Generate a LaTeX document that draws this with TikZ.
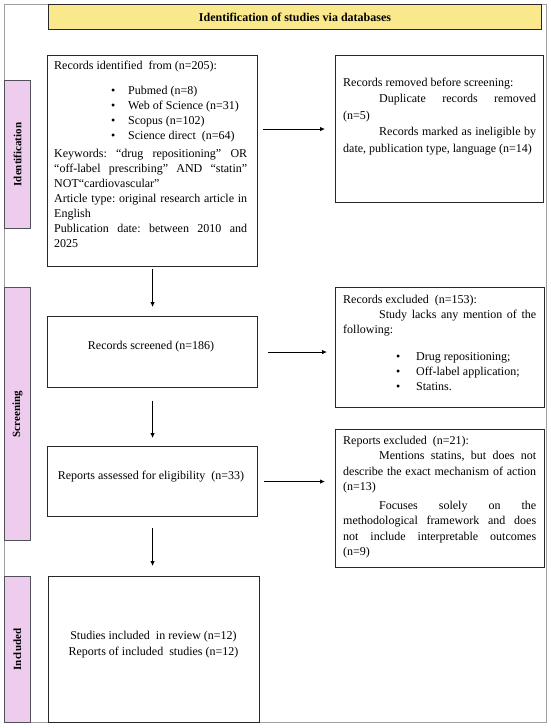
\documentclass[tikz,border=0pt]{standalone}
\usepackage{fontspec}
\setmainfont{Liberation Serif}
\usetikzlibrary{arrows.meta,calc}
\definecolor{sidepink}{RGB}{238,204,238}
\definecolor{hdryellow}{RGB}{250,232,140}
\definecolor{boxline}{RGB}{40,40,40}
\definecolor{frameline}{RGB}{160,160,160}
\definecolor{sideline}{RGB}{80,80,90}
\frenchspacing
\newcommand\nsp{\spaceskip=0pt\xspaceskip=0pt\relax}
\newcommand\justline[1]{\makebox[193pt][s]{\nsp #1}}
\newcommand\bulitem[3]{\hspace*{#1}\makebox[#2][l]{\textbullet}#3}
\begin{document}
\begin{tikzpicture}[x=1pt,y=-1pt,
  box/.style={draw=boxline, line width=1.1pt, rectangle, inner sep=0pt, anchor=north west},
  side/.style={draw=sideline, fill=sidepink, line width=1pt, rectangle, inner sep=0pt, anchor=north west, minimum width=26pt},
  sidelabel/.style={rotate=90, font=\fontsize{11}{13}\selectfont\bfseries, inner sep=0pt},
  txt/.style={inner sep=0pt, anchor=north west, text width=193pt, align=left, font=\fontsize{12}{15}\selectfont},
  ctxt/.style={inner sep=0pt, align=center, font=\fontsize{12}{16}\selectfont},
  arr/.style={draw=black, line width=0.9pt, -{Latex[length=5pt,width=4.5pt]}}
]
\useasboundingbox (0,0) rectangle (550,728);
\fill[white] (0,0) rectangle (550,728);
\draw[frameline, line width=0.8pt] (4,4) rectangle (546,722);

% header
\node[box, fill=hdryellow, draw=boxline, line width=1pt, minimum width=493pt, minimum height=25pt,
      font=\fontsize{12}{14}\selectfont\bfseries] (hdr) at (48,4) {\nsp Identification of studies via databases};

% sidebars
\node[side, minimum height=148pt] (sid) at (4,80) {};
\node[sidelabel] (sidl) at (sid.center) {Identification};
\node[side, minimum height=253pt] (sscr) at (4,287) {};
\node[sidelabel] (sscrl) at (sscr.center) {Screening};
\node[side, minimum height=146pt] (sinc) at (4,576) {};
\node[sidelabel] (sincl) at (sinc.center) {Included};

% boxes
\node[box, minimum width=210pt, minimum height=211pt] (box1) at (47,55) {};
\node[box, minimum width=208pt, minimum height=147pt] (rem) at (335,55) {};
\node[box, minimum width=210pt, minimum height=71pt] (scr) at (47,316) {};
\node[box, minimum width=209pt, minimum height=120pt] (excl) at (335,287) {};
\node[box, minimum width=210pt, minimum height=70pt] (rep) at (47,446) {};
\node[box, minimum width=209pt, minimum height=138pt] (excl2) at (335,429) {};
\node[box, minimum width=211pt, minimum height=146pt] (inc) at (48,576) {};

% texts
\node[txt] (box1t) at (54,60.5) {\nsp Records identified~ from (n=205):\\[10pt]
\bulitem{57pt}{17pt}{Pubmed (n=8)}\\
\bulitem{57pt}{17pt}{Web of Science (n=31)}\\
\bulitem{57pt}{17pt}{Scopus (n=102)}\\
\bulitem{57pt}{17pt}{Science direct~ (n=64)}\\[3pt]
\justline{Keywords: “drug repositioning” OR}\\
\justline{“off-label prescribing” AND “statin”}\\
NOT“cardiovascular”\\
\justline{Article type: original research article in}\\
English\\
\justline{Publication date: between 2010 and}\\
2025};

\node[txt, font=\fontsize{12}{16.5}\selectfont] (remt) at (343,77.5) {\nsp Records removed before screening:\\
\justline{\hspace*{36pt}Duplicate records removed}\\
(n=5)\\
\justline{\hspace*{36pt}Records marked as ineligible by}\\
date, publication type, language (n=14)};

\node[ctxt] (scrt) at (151,347) {\nsp Records screened (n=186)};

\node[txt] (exclt) at (343,294.5) {\nsp Records excluded~ (n=153):\\
\justline{\hspace*{36pt}Study lacks any mention of the}\\
following:\\[12pt]
\bulitem{53pt}{20pt}{Drug repositioning;}\\
\bulitem{53pt}{20pt}{Off-label application;}\\
\bulitem{53pt}{20pt}{Statins.}};

\node[ctxt] (rept) at (151,477) {\nsp Reports assessed for eligibility~ (n=33)};

\node[txt, font=\fontsize{12}{15.5}\selectfont] (excl2t) at (343,435.5) {\nsp Reports excluded~ (n=21):\\
\justline{\hspace*{36pt}Mentions statins, but does not}\\
\justline{describe the exact mechanism of action}\\
(n=13)\\[3pt]
\justline{\hspace*{36pt}Focuses solely on the}\\
\justline{methodological framework and does}\\
\justline{not include interpretable outcomes}\\
(n=9)};

\node[ctxt] (inct) at (153.5,644.5) {\nsp Studies included~ in review (n=12)\\Reports of included~ studies (n=12)};

% arrows
\draw[arr, shorten <=5pt, shorten >=10pt] (box1.east |- rem.west) -- (rem.west);
\draw[arr, shorten <=2pt, shorten >=9pt] (box1.south) -- (box1.south |- scr.north);
\draw[arr, shorten <=10pt, shorten >=8pt] (scr.east) -- (scr.east -| excl.west);
\draw[arr, shorten <=13pt, shorten >=8pt] (scr.south) -- (scr.south |- rep.north);
\draw[arr, shorten <=6pt, shorten >=10pt] (rep.east) -- (rep.east -| excl2.west);
\draw[arr, shorten <=11pt, shorten >=10pt] (rep.south) -- (rep.south |- inc.north);
\end{tikzpicture}
\end{document}
